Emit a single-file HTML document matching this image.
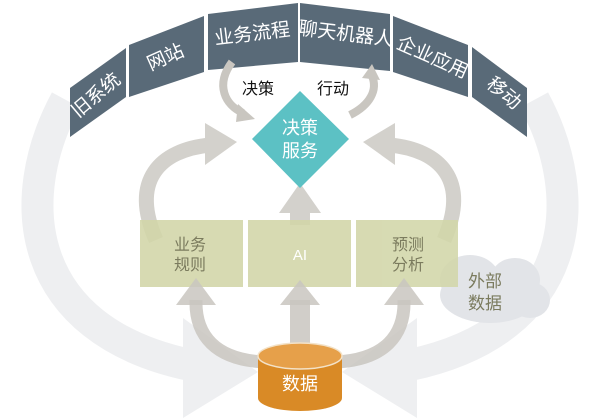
<!DOCTYPE html>
<html><head><meta charset="utf-8"><style>
html,body{margin:0;padding:0;background:#fff;}
svg{display:block;}
text{font-family:"Liberation Sans","Noto Sans CJK SC",sans-serif;}
</style></head><body>
<svg width="600" height="418" viewBox="0 0 600 418" xmlns="http://www.w3.org/2000/svg">
<!-- big light outer arcs -->
<g fill="none" stroke="#eeeff1" stroke-linecap="butt">
<path d="M66,100 C12,200 25,330 190,365" stroke-width="32"/>
<path d="M534,100 C588,200 575,330 410,365" stroke-width="32"/>
</g>
<polygon points="183,318 258,372 183,418" fill="#eeeff1"/>
<polygon points="417,318 342,372 417,418" fill="#eeeff1"/>
<!-- cloud -->
<g fill="#e2e4e8">
<ellipse cx="490" cy="295" rx="50" ry="28"/>
<ellipse cx="470" cy="280" rx="30" ry="25"/>
<ellipse cx="515" cy="280" rx="25" ry="22"/>
<ellipse cx="530" cy="300" rx="20" ry="18"/>
</g>
<!-- panels -->
<g fill="#596a78">
<polygon points="70,88 126,48 126,97 70,137"/>
<polygon points="129,45 204,16 204,72 129,97"/>
<polygon points="208,14 298,3 298,62 208,70"/>
<polygon points="300,3 390,14 390,71 300,62"/>
<polygon points="393,16 468,45 468,97 393,72"/>
<polygon points="472,47 527,88 527,137 472,97"/>
</g>
<g fill="#fff" font-size="19" text-anchor="middle">
<text transform="translate(100,100) rotate(-40)">旧系统</text>
<text transform="translate(168,63) rotate(-24)">网站</text>
<text transform="translate(253,40) rotate(-7)">业务流程</text>
<text transform="translate(345,40) rotate(7)">聊天机器人</text>
<text transform="translate(430,63) rotate(24)">企业应用</text>
<text transform="translate(500,98) rotate(40)">移动</text>
</g>
<!-- small arrows -->
<g fill="none" stroke="#c9c6c0" stroke-width="8">
<path d="M232,62 C215,85 225,105 243,113"/>
<path d="M350,115 C370,105 378,90 372,76"/>
</g>
<polygon points="238,104 255,119 236,122" fill="#c9c6c0"/>
<polygon points="362,78 372,64 380,80" fill="#c9c6c0"/>
<text x="258" y="94" font-size="16" text-anchor="middle" fill="#111">决策</text>
<text x="333" y="94" font-size="16" text-anchor="middle" fill="#111">行动</text>
<!-- medium gray loops -->
<g fill="none" stroke="#d3d1cc" stroke-width="15">
<path d="M156,240 C130,180 160,150 210,145"/>
<path d="M444,240 C470,180 440,150 390,145"/>
</g>
<polygon points="205,123 237,142 205,165" fill="#d3d1cc"/>
<polygon points="395,123 363,142 395,165" fill="#d3d1cc"/>
<!-- center up arrow -->
<rect x="290" y="205" width="20" height="20" fill="#d3d1cc"/>
<polygon points="279,213 300,183 321,213" fill="#d3d1cc"/>
<!-- diamond -->
<polygon points="300,91 349,139 300,188 252,139" fill="#5cc1c4"/>
<text x="300" y="134" font-size="18" fill="#fff" text-anchor="middle">决策</text>
<text x="300" y="157" font-size="18" fill="#fff" text-anchor="middle">服务</text>
<!-- boxes -->
<g fill="#d2d6a8" opacity="0.88">
<rect x="140" y="220" width="103" height="67"/>
<rect x="248" y="220" width="103" height="67"/>
<rect x="356" y="220" width="102" height="67"/>
</g>
<g font-size="16" text-anchor="middle" fill="#7b7b5e">
<text x="190" y="250">业务</text><text x="190" y="270">规则</text>
<text x="408" y="250">预测</text><text x="408" y="270">分析</text>
</g>
<text x="300" y="260" font-size="15" fill="#fff" text-anchor="middle">AI</text>
<text x="485" y="287" font-size="17" fill="#7b7b5e" text-anchor="middle">外部</text>
<text x="485" y="309" font-size="17" fill="#7b7b5e" text-anchor="middle">数据</text>
<!-- bottom arrows -->
<g fill="none" stroke="#c9c6c0" stroke-width="13" opacity="0.85">
<path d="M265,362 C215,360 195,335 196,300"/>
<path d="M335,362 C385,360 405,335 404,300"/>
</g>
<rect x="290" y="300" width="20" height="55" fill="#c9c6c0" opacity="0.85"/>
<g fill="#c9c6c0" opacity="0.85">
<polygon points="176,305 196,278 216,305"/>
<polygon points="280,305 300,280 320,305"/>
<polygon points="384,305 404,278 424,305"/>
</g>
<!-- cylinder -->
<path d="M258,356 L258,398 A42,13 0 0 0 342,398 L342,356 Z" fill="#d98a26"/>
<ellipse cx="300" cy="356" rx="42" ry="13" fill="#e6a04a" stroke="#f3e2c8" stroke-width="1.5"/>
<text x="300" y="390" font-size="18" fill="#fff" text-anchor="middle">数据</text>
</svg>
</body></html>
